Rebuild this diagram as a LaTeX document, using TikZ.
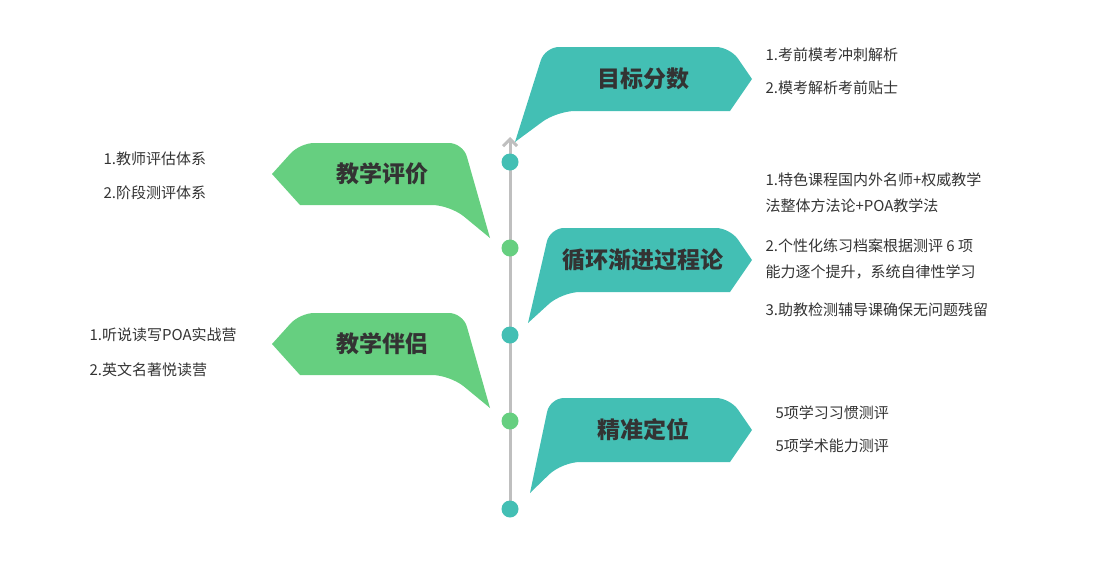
\documentclass[tikz,border=0pt]{standalone}
\usepackage{fontspec}
\setmainfont{Noto Sans CJK SC}
\usetikzlibrary{arrows.meta}
\definecolor{teal}{HTML}{43BFB4}
\definecolor{leaf}{HTML}{66CF80}
\definecolor{ink}{HTML}{333333}
\begin{document}
\begin{tikzpicture}[x=1pt,y=-1pt,
    title/.style={font=\fontsize{23}{26}\selectfont\bfseries, text=ink},
    item/.style={anchor=west, font=\fontsize{15}{18}\selectfont, text=ink},
    dot/.style={circle, inner sep=0pt, minimum size=17pt}]
    \useasboundingbox (0,0) rectangle (1095,571);

    % Achse
    \draw[line width=3pt, color=black!25, -{Straight Barb[length=7pt,width=14pt]}] (510,515) -- (510,137);

    % Punkte
    \foreach \y/\c [count=\i] in {162/teal,248/leaf,335/teal,421/leaf,509/teal} {
      \node[dot, fill=\c] (d\i) at (510,\y) {};
    }

    % Rechte Blasen
    \foreach \t/\tip/\lx/\name/\txt in {47/515/545/goal/目标分数,228/528/550/cycle/循环渐进过程论,398/530/550/locate/精准定位} {
      \fill[teal] (\tip,\t+95) [rounded corners=14pt] -- (\lx,\t) -- (730,\t) [sharp corners] -- (752,\t+32)
        -- (730,\t+64) [rounded corners=18pt] -- (\lx+12,\t+64) [sharp corners] -- cycle;
      \node[title] (\name) at (643,\t+32) {\txt};
    }

    % Linke Blasen
    \foreach \t/\name/\txt in {143/eval/教学评价,313/partner/教学伴侣} {
      \fill[leaf] (490,\t+95) [rounded corners=14pt] -- (463,\t) -- (300,\t) [sharp corners] -- (272,\t+31)
        -- (300,\t+62) [rounded corners=18pt] -- (450,\t+62) [sharp corners] -- cycle;
      \node[title] (\name) at (382,\t+31) {\txt};
    }

    % Texte
    \node[item] (g1) at (762,55) {1.考前模考冲刺解析};
    \node[item] (g2) at (762,88) {2.模考解析考前贴士};
    \node[item] (c1) at (762,180) {1.特色课程国内外名师+权威教学};
    \node[item] (c1b) at (762,206) {法整体方法论+POA教学法};
    \node[item] (c2) at (762,246) {2.个性化练习档案根据测评 6 项};
    \node[item] (c2b) at (762,272) {能力逐个提升，系统自律性学习};
    \node[item] (c3) at (762,310) {3.助教检测辅导课确保无问题残留};
    \node[item] (l1) at (772,413) {5项学习习惯测评};
    \node[item] (l2) at (772,446) {5项学术能力测评};
    \node[item] (e1) at (100,159) {1.教师评估体系};
    \node[item] (e2) at (100,193) {2.阶段测评体系};
    \node[item] (p1) at (86,335) {1.听说读写POA实战营};
    \node[item] (p2) at (86,370) {2.英文名著悦读营};
\end{tikzpicture}
\end{document}
